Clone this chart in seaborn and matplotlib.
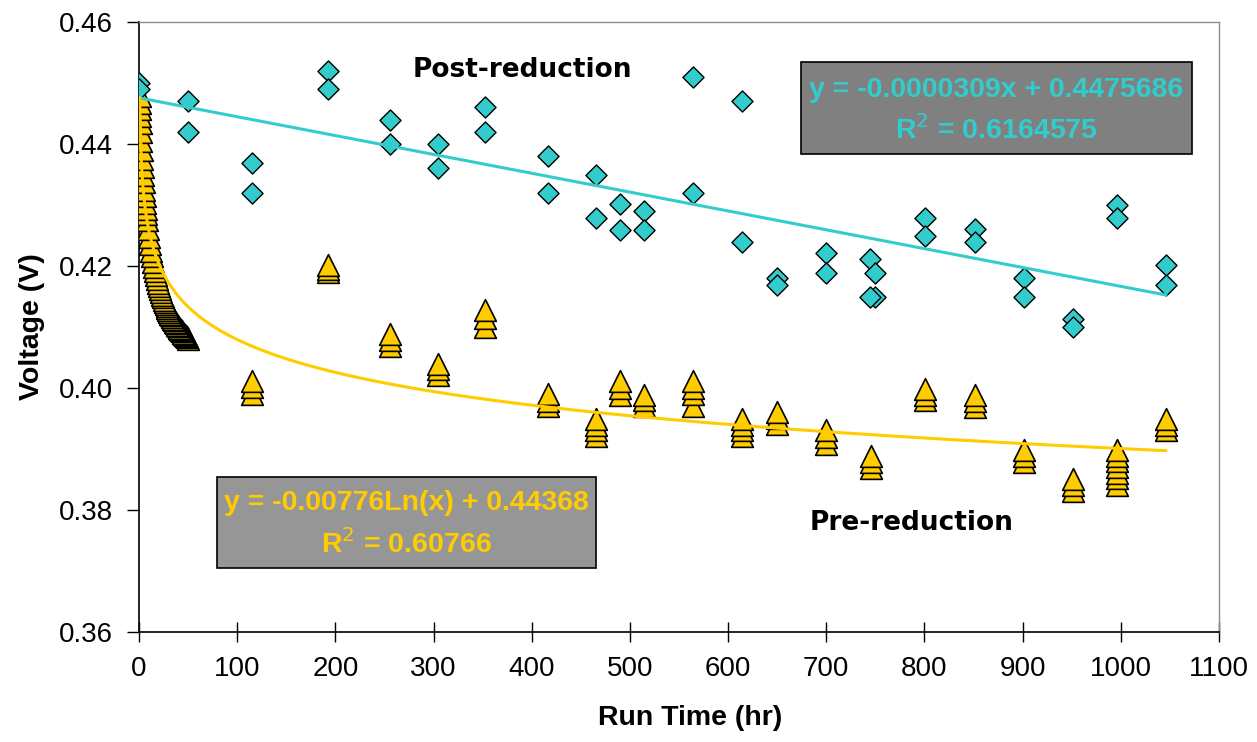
import numpy as np
import pandas as pd
import matplotlib
matplotlib.use("Agg")
import matplotlib.pyplot as plt
from matplotlib.patches import Rectangle
import seaborn as sns

# ===== data =====
# post-reduction (diamonds), two readings per check
post_time = [0, 0, 50, 50, 115, 115, 192, 192, 256, 256, 305, 305, 352, 352,
             417, 417, 465, 465, 490, 490, 514, 514, 564, 564, 614, 614, 650, 650,
             700, 700, 745, 750, 745, 750, 801, 801, 851, 851, 901, 901, 951, 951,
             996, 996, 1046, 1046]
post_volt = [0.4500, 0.4490, 0.4471, 0.4420, 0.4369, 0.4320, 0.4520, 0.4490, 0.4439, 0.4400,
             0.4400, 0.4360, 0.4460, 0.4420, 0.4381, 0.4320, 0.4349, 0.4278, 0.4301, 0.4259,
             0.4291, 0.4259, 0.4510, 0.4320, 0.4471, 0.4240, 0.4180, 0.4169, 0.4221, 0.4189,
             0.4211, 0.4189, 0.4150, 0.4150, 0.4278, 0.4249, 0.4260, 0.4240, 0.4180, 0.4150,
             0.4113, 0.4100, 0.4300, 0.4278, 0.4202, 0.4169]

# pre-reduction, start-up logging (first 50 hr)
pre_start_time = [0.6, 0.8, 1.0, 1.3, 1.6, 2.0, 2.5, 3.0, 3.5, 4.0, 4.5, 5, 5.5, 6, 6.5, 7, 7.5, 8,
                  9, 10, 11, 12, 13, 14, 15, 16, 17, 18, 19, 20, 21, 22, 23, 24, 25, 26, 27, 28,
                  29, 30, 31, 32, 33, 34, 35, 36, 37, 38, 39, 40, 41, 42, 43, 44, 45, 46, 47, 48,
                  49, 50]
pre_start_volt = [0.4478, 0.4468, 0.4458, 0.4446, 0.4434, 0.4420, 0.4405, 0.4390, 0.4376, 0.4362,
                  0.4349, 0.4337, 0.4325, 0.4314, 0.4304, 0.4294, 0.4285, 0.4276,
                  0.4261, 0.4248, 0.4236, 0.4225, 0.4216, 0.4207, 0.4199, 0.4192, 0.4185, 0.4179,
                  0.4173, 0.4167, 0.4162, 0.4157, 0.4153, 0.4149, 0.4145, 0.4141, 0.4138, 0.4134,
                  0.4131, 0.4128, 0.4125, 0.4122, 0.4119, 0.4116, 0.4113, 0.4111, 0.4108, 0.4106,
                  0.4103, 0.4101, 0.4099, 0.4097, 0.4095, 0.4093, 0.4091, 0.4089, 0.4087, 0.4085,
                  0.4083, 0.4081]

# pre-reduction, periodic checks (several readings each)
pre_time = [115, 115, 115, 192, 192, 192, 256, 256, 256, 305, 305, 305, 352, 352, 352,
            417, 417, 417, 465, 465, 465, 465, 490, 490, 490, 514, 514, 514,
            564, 564, 564, 564, 614, 614, 614, 614, 650, 650, 650, 700, 700, 700,
            746, 746, 746, 801, 801, 801, 851, 851, 851, 901, 901, 901, 951, 951, 951,
            996, 996, 996, 996, 996, 996, 996, 1046, 1046, 1046]
pre_volt = [0.4011, 0.4001, 0.3990, 0.4202, 0.4195, 0.4190, 0.4088, 0.4079, 0.4069,
            0.4040, 0.4031, 0.4021, 0.4128, 0.4114, 0.4100, 0.3990, 0.3979, 0.3970,
            0.3950, 0.3940, 0.3931, 0.3921, 0.4011, 0.4000, 0.3989, 0.3989, 0.3980, 0.3970,
            0.4011, 0.4000, 0.3990, 0.3970, 0.3950, 0.3940, 0.3931, 0.3921, 0.3960, 0.3951, 0.3941,
            0.3931, 0.3920, 0.3909, 0.3889, 0.3879, 0.3869, 0.3998, 0.3989, 0.3980,
            0.3989, 0.3979, 0.3969, 0.3898, 0.3889, 0.3878, 0.3851, 0.3841, 0.3831,
            0.3898, 0.3889, 0.3880, 0.3870, 0.3861, 0.3852, 0.3841, 0.3949, 0.3940, 0.3931]

# trendline coefficients as printed on the chart
post_slope, post_icpt, post_r2 = -0.0000309, 0.4475686, 0.6164575
pre_coef, pre_icpt, pre_r2 = -0.00776, 0.44368, 0.60766

x_ticks = list(range(0, 1101, 100))
y_ticks = [0.36, 0.38, 0.40, 0.42, 0.44, 0.46]

CYAN = "#33CCCC"
GOLD = "#FFCC00"

# ===== frames =====
post_df = pd.DataFrame({"time": post_time, "volt": post_volt})
post_df = post_df.sort_values("volt", ascending=False)  # lower diamonds end up on top

pre_df = pd.DataFrame({"time": pre_start_time + pre_time, "volt": pre_start_volt + pre_volt})
pre_df = pre_df.sort_values("volt", ascending=True)  # upper triangles end up on top

# trendlines
lin_x = np.linspace(min(post_time), max(post_time), 50)
lin_df = pd.DataFrame({"time": lin_x, "volt": post_slope * lin_x + post_icpt})
log_x = np.linspace(min(pre_df["time"]), max(pre_df["time"]), 600)
log_df = pd.DataFrame({"time": log_x, "volt": pre_coef * np.log(log_x) + pre_icpt})

# ===== plot =====
sns.set_style("white")
plt.rcParams["font.family"] = ["Liberation Sans", "DejaVu Sans"]
plt.rcParams["text.color"] = "black"
plt.rcParams["xtick.color"] = "black"
plt.rcParams["ytick.color"] = "black"
plt.rcParams["axes.labelcolor"] = "black"

fig = plt.figure(figsize=(12.57, 7.42), dpi=100)
ax = fig.add_axes([0.1106, 0.1482, 0.8592, 0.8221])

sns.scatterplot(data=pre_df, x="time", y="volt", marker="^", s=245, color=GOLD,
                edgecolor="black", linewidth=1.2, ax=ax, zorder=3, legend=False)
sns.scatterplot(data=post_df, x="time", y="volt", marker="D", s=115, color=CYAN,
                edgecolor="black", linewidth=1.0, ax=ax, zorder=4, legend=False)
sns.lineplot(data=lin_df, x="time", y="volt", color=CYAN, linewidth=2.2, ax=ax,
             zorder=5, estimator=None, sort=False)
sns.lineplot(data=log_df, x="time", y="volt", color=GOLD, linewidth=2.2, ax=ax,
             zorder=5, estimator=None, sort=False)

ax.set_xlim(0, 1100)
ax.set_ylim(0.36, 0.46)
ax.set_xticks(x_ticks)
ax.set_yticks(y_ticks)
ax.set_xticklabels([str(t) for t in x_ticks])
ax.set_yticklabels([f"{v:.2f}" for v in y_ticks])
ax.tick_params(axis="x", direction="inout", length=14, width=1, labelsize=20, pad=10, bottom=True)
ax.tick_params(axis="y", direction="out", length=9, width=1, labelsize=20, pad=10, left=True)

for side in ["top", "right"]:
    ax.spines[side].set_color("#8c8c8c")
    ax.spines[side].set_linewidth(1.0)
for side in ["left", "bottom"]:
    ax.spines[side].set_color("black")
    ax.spines[side].set_linewidth(1.2)

ax.set_xlabel("Run Time (hr)", fontsize=20.5, fontweight="bold")
ax.set_ylabel("Voltage (V)", fontsize=20.5, fontweight="bold")
ax.xaxis.set_label_coords(0.510, -0.119)
ax.yaxis.set_label_coords(-0.087, 0.5)

# equation boxes
ax.add_patch(Rectangle((0.613, 0.7836), 0.362, 0.1508, transform=ax.transAxes,
                       facecolor="#808080", edgecolor="black", linewidth=1.2, zorder=6))
ax.text(0.794, 0.8885, f"y = {post_slope:.7f}x + {post_icpt}", transform=ax.transAxes,
        ha="center", va="center", fontsize=20.5, fontweight="bold", color=CYAN, zorder=7)
ax.text(0.794, 0.8230, f"R$^2$ = {post_r2}", transform=ax.transAxes,
        ha="center", va="center", fontsize=20.5, fontweight="bold", color=CYAN, zorder=7)

ax.add_patch(Rectangle((0.0719, 0.1044), 0.3509, 0.1492, transform=ax.transAxes,
                       facecolor="#969696", edgecolor="black", linewidth=1.2, zorder=6))
ax.text(0.2472, 0.2123, f"y = {pre_coef}Ln(x) + {pre_icpt}", transform=ax.transAxes,
        ha="center", va="center", fontsize=20.5, fontweight="bold", color=GOLD, zorder=7)
ax.text(0.2472, 0.1435, f"R$^2$ = {pre_r2}", transform=ax.transAxes,
        ha="center", va="center", fontsize=20.5, fontweight="bold", color=GOLD, zorder=7)

# series labels
ax.text(0.3546, 0.9213, "Post-reduction", transform=ax.transAxes, ha="center", va="center",
        fontsize=19, fontweight="bold", family="DejaVu Sans", color="black")
ax.text(0.7157, 0.1787, "Pre-reduction", transform=ax.transAxes, ha="center", va="center",
        fontsize=19, fontweight="bold", family="DejaVu Sans", color="black")

fig.savefig("out.png", dpi=100)
